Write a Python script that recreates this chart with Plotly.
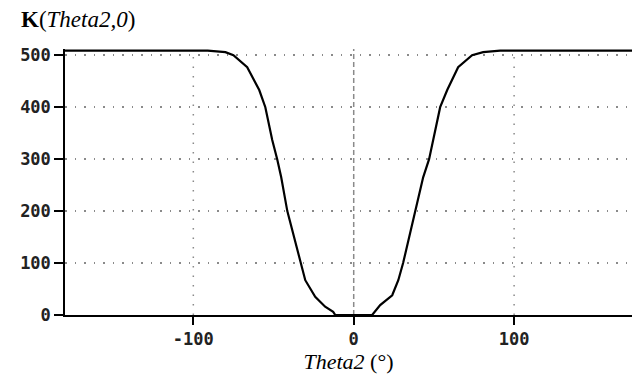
import plotly.graph_objects as go

# Data
theta = [-180, -91, -80, -75, -66.4, -58.9, -55.1, -50.8, -47.7, -45.2, -41.4,
         -33.3, -30.2, -24.0, -17.8, -12.8, -11.5, 11.5, 16.5, 24.0, 27.8, 30.8,
         38.3, 43.3, 47.0, 53.9, 58.3, 65.1, 73.8, 80.7, 91.3, 180]
K = [509, 509, 506, 500, 477, 433, 400, 337, 300, 265, 200,
     100, 67, 35, 16, 6, 0, 0, 19, 38, 67, 100,
     198, 265, 300, 400, 433, 477, 500, 506, 509, 509]

x_ticks = [-100, 0, 100]
y_ticks = [0, 100, 200, 300, 400, 500]
x_grid_dotted = [-100, 100]
x_grid_dashed = [0]

tickfont = dict(family="DejaVu Sans Mono", size=17, color="#222", weight="bold")
serif = "Liberation Serif"

fig = go.Figure()
fig.add_trace(go.Scatter(x=theta, y=K, mode="lines",
                         line=dict(color="black", width=2.2),
                         showlegend=False, hoverinfo="skip"))

shapes = []
for gx in x_grid_dotted:
    shapes.append(dict(type="line", xref="x", yref="paper", x0=gx, x1=gx, y0=0, y1=1,
                       line=dict(color="#8a8a8a", width=1.5, dash="1.5px,8px"), layer="below"))
for gx in x_grid_dashed:
    shapes.append(dict(type="line", xref="x", yref="paper", x0=gx, x1=gx, y0=0, y1=1,
                       line=dict(color="#8a8a8a", width=1.5, dash="5px,3px"), layer="below"))

fig.update_layout(
    width=632, height=379,
    margin=dict(l=65, r=0, t=49, b=64),
    paper_bgcolor="white", plot_bgcolor="white",
    shapes=shapes,
    title=dict(text="<b>K</b>(<i>Theta2,0</i>)", xref="container", yref="container",
               x=21 / 632, xanchor="left", y=1 - 19 / 379, yanchor="middle",
               font=dict(family=serif, size=23, color="black")),
    xaxis=dict(range=[-180, 173.5], tickvals=x_ticks, ticktext=[str(v) for v in x_ticks],
               showgrid=False, zeroline=False, showline=True, linecolor="black", linewidth=1.5,
               ticks="outside", ticklen=8, tickwidth=1.5, tickcolor="black",
               tickfont=tickfont,
               title=dict(text="<i>Theta2</i> (°)", font=dict(family=serif, size=22, color="black"),
                          standoff=5)),
    yaxis=dict(range=[0, 512], tickvals=y_ticks, ticktext=[str(v) for v in y_ticks],
               showgrid=True, gridcolor="#8a8a8a", gridwidth=1.5, griddash="1.5px,8px",
               zeroline=False, showline=True, linecolor="black", linewidth=1.5,
               ticks="outside", ticklen=9, tickwidth=1.5, tickcolor="black",
               tickfont=tickfont),
)

fig.write_html("out.html")
